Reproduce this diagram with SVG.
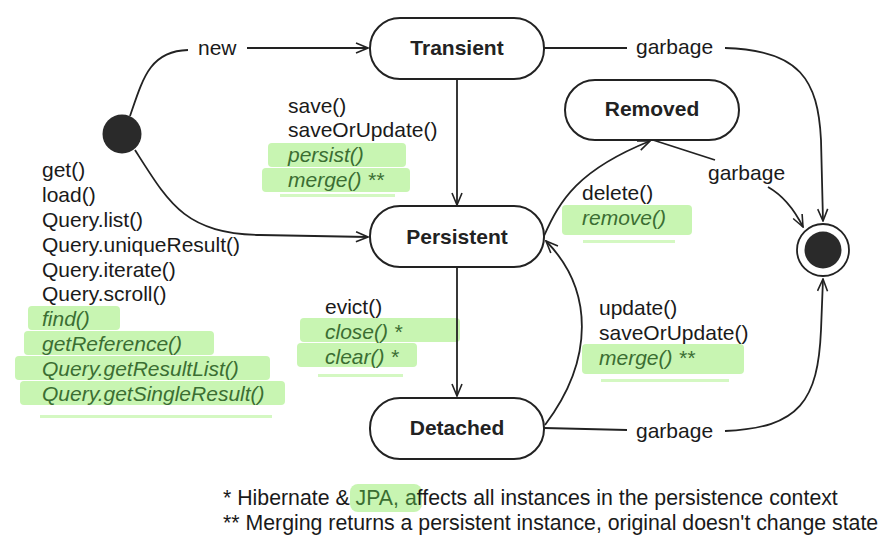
<svg xmlns="http://www.w3.org/2000/svg" width="893" height="540" viewBox="0 0 893 540">
<defs>
<marker id="arr" markerWidth="14" markerHeight="12" refX="13" refY="6" orient="auto" markerUnits="userSpaceOnUse">
<path d="M1,1 L13,6 L1,11" fill="none" stroke="#222" stroke-width="1.6"/>
</marker>
<style>
.node{fill:#fff;stroke:#222;stroke-width:2}
.edge{fill:none;stroke:#222;stroke-width:1.8}
.t{font-family:"Liberation Sans",Arial,sans-serif;font-size:21px;fill:#1a1a1a}
.f{font-family:"Liberation Sans",Arial,sans-serif;font-size:21.3px;fill:#1a1a1a}
.b{font-family:"Liberation Sans",Arial,sans-serif;font-size:21px;font-weight:bold;fill:#222;text-anchor:middle}
.g{font-family:"Liberation Sans",Arial,sans-serif;font-size:21px;font-style:italic;fill:#3b6e32}
.hl{fill:#c8f5b2}
.hl2{fill:#d4f8c2}
</style>
</defs>
<rect width="893" height="540" fill="#fff"/>

<g id="highlights">
<rect class="hl" x="268" y="143" width="138" height="24" rx="4"/>
<rect class="hl" x="262" y="168" width="148" height="24" rx="4"/>
<rect class="hl2" x="280" y="194" width="115" height="3"/>
<rect class="hl" x="28" y="306" width="92" height="24" rx="4"/>
<rect class="hl" x="24" y="331" width="190" height="24" rx="4"/>
<rect class="hl" x="15" y="356" width="255" height="24" rx="4"/>
<rect class="hl" x="20" y="381" width="265" height="24" rx="4"/>
<rect class="hl2" x="40" y="415" width="232" height="3"/>
<rect class="hl" x="300" y="318" width="160" height="24" rx="4"/>
<rect class="hl" x="297" y="343" width="120" height="24" rx="4"/>
<rect class="hl2" x="318" y="374" width="85" height="3"/>
<rect class="hl" x="562" y="205" width="130" height="30" rx="4"/>
<rect class="hl2" x="583" y="240" width="92" height="3"/>
<rect class="hl" x="582" y="344" width="162" height="30" rx="4"/>
<rect class="hl2" x="601" y="379" width="128" height="3"/>
<rect class="hl" x="350" y="484" width="72" height="28" rx="8"/>
</g>

<g id="connectors">
<path class="edge" d="M130,116 C143,78 150,51 188,50"/>
<path class="edge" d="M247,48 L368,48" marker-end="url(#arr)"/>
<path class="edge" d="M135,150 C170,205 185,233 260,235 L368,237" marker-end="url(#arr)"/>
<path class="edge" d="M457,79 L457,205" marker-end="url(#arr)"/>
<path class="edge" d="M457,267 L457,396" marker-end="url(#arr)"/>
<path class="edge" d="M544,48 L627,48"/>
<path class="edge" d="M725,48 C800,50 818,80 821,140 L823,221" marker-end="url(#arr)"/>
<path class="edge" d="M653,140 L715,160"/>
<path class="edge" d="M768,187 C784,196 795,211 803,227" marker-end="url(#arr)"/>
<path class="edge" d="M544,236 C560,200 578,170 650,141" marker-end="url(#arr)"/>
<path class="edge" d="M545,425 C594,360 594,290 546,241" marker-end="url(#arr)"/>
<path class="edge" d="M544,428 L627,430"/>
<path class="edge" d="M725,431 C800,428 818,400 821,330 L823,279" marker-end="url(#arr)"/>
</g>

<g id="initial">
<circle cx="122" cy="134" r="19.5" fill="#2a2a2a"/>
</g>
<g id="final">
<circle cx="823" cy="250" r="26" fill="#fff" stroke="#222" stroke-width="1.8"/>
<circle cx="823" cy="250" r="18.5" fill="#2a2a2a"/>
</g>

<g id="transient">
<rect class="node" x="370" y="18" width="174" height="61" rx="30"/>
<text class="b" x="457" y="55">Transient</text>
</g>
<g id="removed">
<rect class="node" x="565" y="80" width="174" height="60" rx="30"/>
<text class="b" x="652" y="116">Removed</text>
</g>
<g id="persistent">
<rect class="node" x="370" y="206" width="174" height="61" rx="30"/>
<text class="b" x="457" y="244">Persistent</text>
</g>
<g id="detached">
<rect class="node" x="370" y="398" width="174" height="61" rx="30"/>
<text class="b" x="457" y="435">Detached</text>
</g>

<g id="labels">
<text class="t" x="198" y="55">new</text>
<text class="t" x="636" y="54">garbage</text>
<text class="t" x="708" y="180">garbage</text>
<text class="t" x="636" y="438">garbage</text>

<text class="t" x="288" y="113">save()</text>
<text class="t" x="288" y="137">saveOrUpdate()</text>
<text class="g" x="288" y="162">persist()</text>
<text class="g" x="288" y="187">merge() **</text>

<text class="t" x="42" y="177">get()</text>
<text class="t" x="42" y="202">load()</text>
<text class="t" x="42" y="227">Query.list()</text>
<text class="t" x="42" y="252">Query.uniqueResult()</text>
<text class="t" x="42" y="277">Query.iterate()</text>
<text class="t" x="42" y="301">Query.scroll()</text>
<text class="g" x="42" y="326">find()</text>
<text class="g" x="42" y="351">getReference()</text>
<text class="g" x="42" y="376">Query.getResultList()</text>
<text class="g" x="42" y="401">Query.getSingleResult()</text>

<text class="t" x="582" y="200">delete()</text>
<text class="g" x="582" y="225">remove()</text>

<text class="t" x="325" y="314">evict()</text>
<text class="g" x="325" y="339">close() *</text>
<text class="g" x="325" y="364">clear() *</text>

<text class="t" x="599" y="315">update()</text>
<text class="t" x="599" y="340">saveOrUpdate()</text>
<text class="g" x="599" y="365">merge() **</text>

<text class="f" x="223" y="505">* Hibernate &amp; <tspan fill="#3b6e32">JPA, a</tspan>ffects all instances in the persistence context</text>
<text class="f" x="223" y="530">** Merging returns a persistent instance, original doesn't change state</text>
</g>
</svg>
